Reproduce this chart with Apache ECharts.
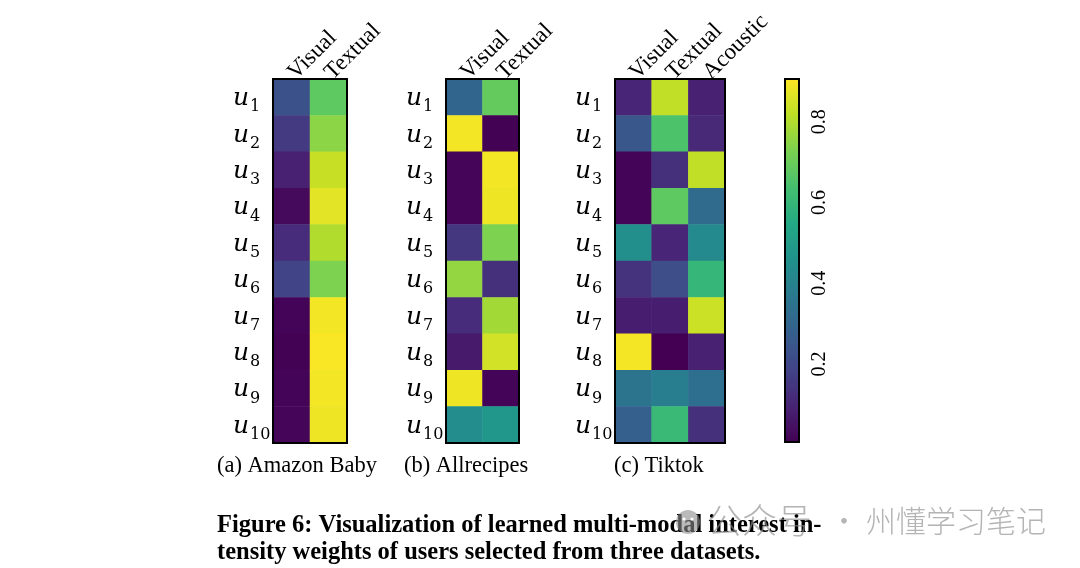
<!DOCTYPE html>
<html><head><meta charset="utf-8">
<script src="https://cdn.jsdelivr.net/npm/echarts@6/dist/echarts.min.js"></script>
<style>html,body{margin:0;padding:0;background:#fff}#c{width:1080px;height:568px}</style>
</head><body><div id="c"></div>
<script>
const users = ['1','2','3','4','5','6','7','8','9','10'];
const modA = ['Visual','Textual'];
const modB = ['Visual','Textual'];
const modC = ['Visual','Textual','Acoustic'];
// (a) Amazon Baby
const amazonVisual  = [0.23,0.16,0.09,0.03,0.12,0.19,0.015,0.01,0.015,0.02];
const amazonTextual = [0.68,0.75,0.83,0.87,0.80,0.73,0.89,0.90,0.89,0.885];
// (b) Allrecipes
const allrVisual  = [0.30,0.89,0.02,0.02,0.15,0.76,0.12,0.07,0.885,0.44];
const allrTextual = [0.69,0.01,0.89,0.885,0.73,0.13,0.78,0.845,0.015,0.475];
// (c) Tiktok
const tikVisual   = [0.10,0.25,0.015,0.015,0.45,0.14,0.08,0.895,0.35,0.28];
const tikTextual  = [0.82,0.65,0.13,0.68,0.10,0.22,0.08,0.008,0.385,0.61];
const tikAcoustic = [0.09,0.11,0.82,0.32,0.43,0.60,0.835,0.09,0.33,0.13];
const cbTicks = [0.2,0.4,0.6,0.8];
const vMin = 0.007, vMax = 0.906;
const viridis = ['#440154','#482475','#414487','#355f8d','#2a788e','#21918c','#22a884','#44bf70','#7ad151','#bddf26','#fde725'];

function toCells(cols){
  const out=[];
  cols.forEach((arr,xi)=>arr.forEach((v,yi)=>out.push([xi,yi,v])));
  return out;
}
const serif = 'Liberation Serif';
const grids = [
  {left:273, top:79, width:74, height:364},
  {left:446, top:79, width:73, height:364},
  {left:615, top:79, width:110, height:364},
  {left:785, top:79, width:14, height:363}
].map(g=>Object.assign({show:true, borderColor:'#000', borderWidth:2, backgroundColor:'transparent', z:5, containLabel:false}, g));

function catX(i, mods){
  return {gridIndex:i, type:'category', data:mods, position:'top',
    axisLine:{show:false}, axisTick:{show:false},
    axisLabel:{rotate:-45, margin:3, color:'#000', fontFamily:serif, fontSize:23, interval:0}};
}
function catY(i){
  return {gridIndex:i, type:'category', data:users, inverse:true,
    axisLine:{show:false}, axisTick:{show:false},
    axisLabel:{align:'left', margin:40, interval:0,
      formatter:v=>'{u|u}{s|'+v+'}',
      rich:{u:{fontFamily:'DejaVu Serif', fontStyle:'italic', fontSize:25, color:'#000', lineHeight:28, verticalAlign:'bottom'},
            s:{fontFamily:'DejaVu Serif', fontSize:16, color:'#000', lineHeight:20, verticalAlign:'bottom', padding:[0,0,-4,1]}}}};
}
const option = {
  animation:false,
  backgroundColor:'#fff',
  grid:grids,
  xAxis:[catX(0,modA),catX(1,modB),catX(2,modC),
    {gridIndex:3, type:'value', show:false, min:0, max:1}],
  yAxis:[catY(0),catY(1),catY(2),
    {gridIndex:3, type:'value', position:'right', min:vMin, max:vMax,
     axisLine:{show:false}, splitLine:{show:false},
     axisTick:{show:true, length:5, inside:false, customValues:cbTicks, lineStyle:{color:'#000', width:1.5}},
     axisLabel:{customValues:cbTicks, rotate:90, margin:11, color:'#000', fontFamily:serif, fontSize:20, formatter:v=>v.toFixed(1)}}],
  visualMap:{type:'continuous', min:vMin, max:vMax, seriesIndex:[0,1,2], inRange:{color:viridis},
    calculable:false, hoverLink:false, left:785, top:79, itemWidth:14, itemHeight:363, padding:0, text:['',''], textGap:0, orient:'vertical'},
  series:[
    {type:'heatmap', xAxisIndex:0, yAxisIndex:0, data:toCells([amazonVisual,amazonTextual])},
    {type:'heatmap', xAxisIndex:1, yAxisIndex:1, data:toCells([allrVisual,allrTextual])},
    {type:'heatmap', xAxisIndex:2, yAxisIndex:2, data:toCells([tikVisual,tikTextual,tikAcoustic])}
  ],
  title:[
    {text:'(a) Amazon Baby', left:217, top:455, textStyle:{fontFamily:serif, fontWeight:'normal', fontSize:22.5, color:'#000'}, padding:0},
    {text:'(b) Allrecipes', left:404, top:455, textStyle:{fontFamily:serif, fontWeight:'normal', fontSize:22.5, color:'#000'}, padding:0},
    {text:'(c) Tiktok', left:614, top:455, textStyle:{fontFamily:serif, fontWeight:'normal', fontSize:22.5, color:'#000'}, padding:0},
    {text:'Figure 6: Visualization of learned multi-modal interest in-\ntensity weights of users selected from three datasets.', left:217, top:512,
     textStyle:{fontFamily:serif, fontWeight:'bold', fontSize:24.5, lineHeight:27, color:'#000'}, padding:0}
  ],
  graphic:[
    {type:'circle', shape:{cx:688, cy:522, r:12}, style:{fill:'rgba(140,140,140,0.6)'}, z:100},
    {type:'circle', shape:{cx:684, cy:519, r:1.6}, style:{fill:'#fff'}, z:101},
    {type:'circle', shape:{cx:692, cy:519, r:1.6}, style:{fill:'#fff'}, z:101},
    {type:'text', left:707, top:503, style:{text:'公众号', font:'300 35px "Noto Sans CJK SC"', fill:'rgba(140,140,140,0.65)'}, z:100},
    {type:'text', left:829, top:506, style:{text:'·', font:'300 30px "Noto Sans CJK SC"', fill:'rgba(140,140,140,0.65)'}, z:100},
    {type:'text', left:866, top:506, style:{text:'州懂学习笔记', font:'300 30px "Noto Sans CJK SC"', fill:'rgba(140,140,140,0.65)'}, z:100}
  ]
};
const chart = echarts.init(document.getElementById('c'), null, {renderer:'canvas'});
chart.setOption(option);
</script></body></html>
